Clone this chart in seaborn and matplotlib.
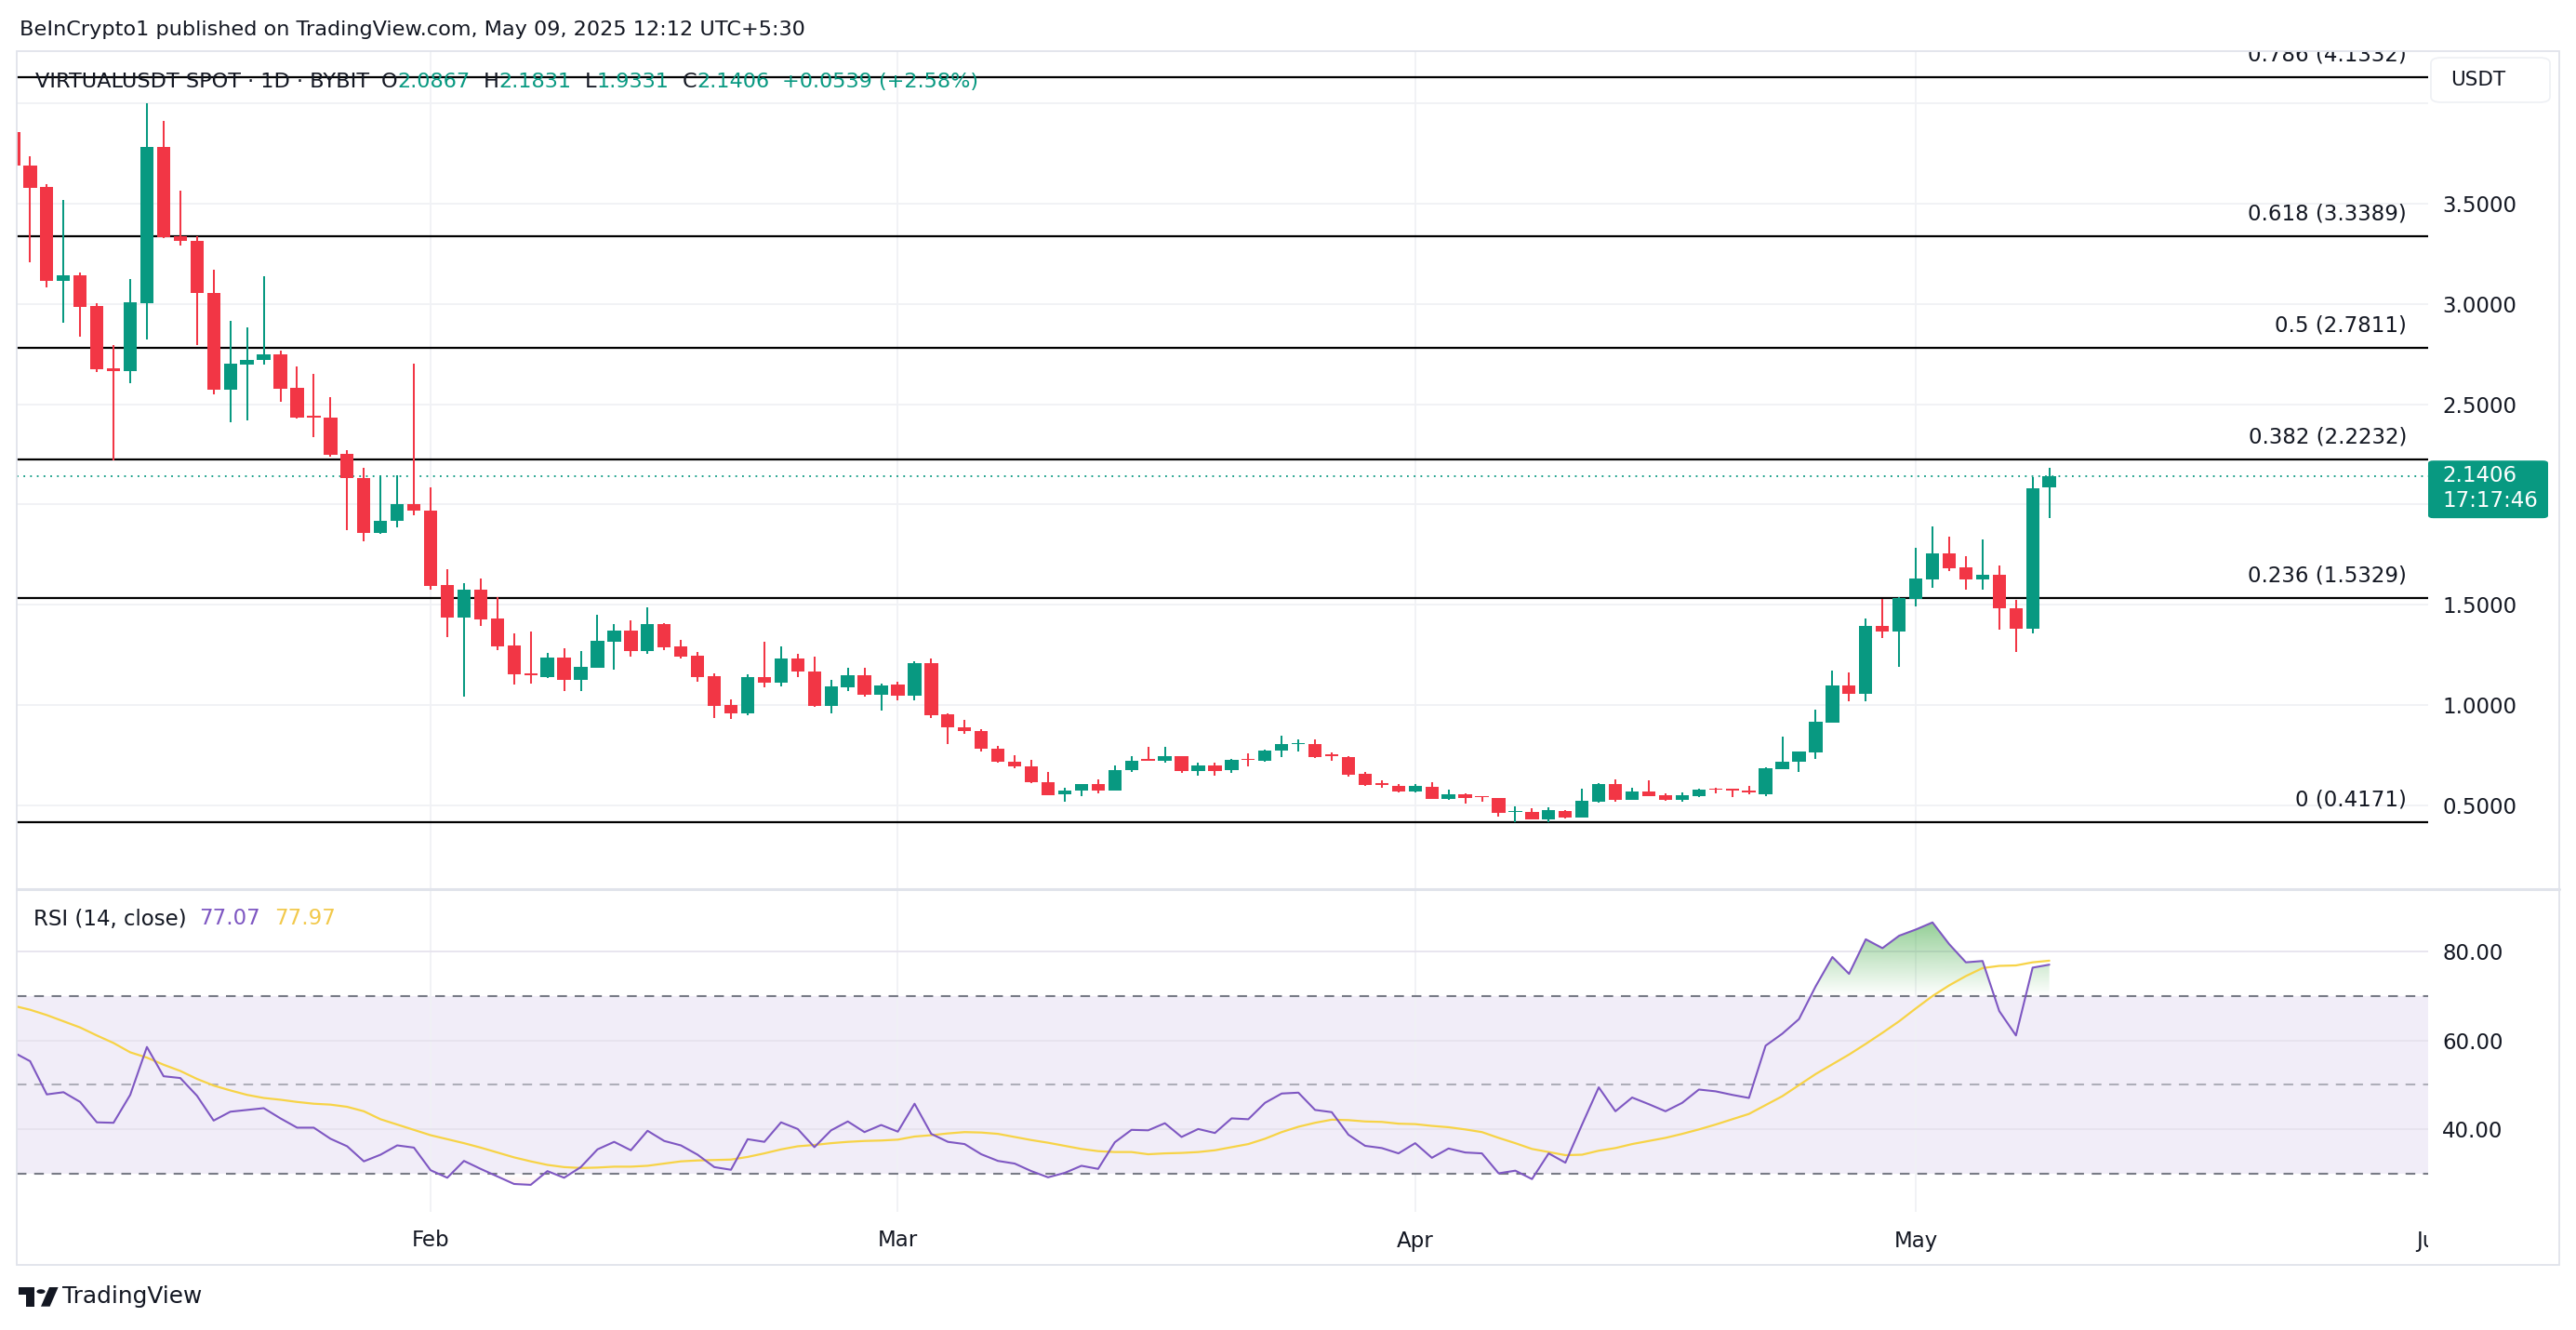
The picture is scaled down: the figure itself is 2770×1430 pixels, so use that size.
import matplotlib
matplotlib.use("Agg")
import matplotlib.pyplot as plt
import matplotlib.dates as mdates
from matplotlib.patches import Rectangle, FancyBboxPatch, PathPatch, Polygon, Circle
from matplotlib.lines import Line2D
from matplotlib.path import Path
from matplotlib.transforms import Bbox, TransformedBbox, ScaledTranslation, blended_transform_factory
import numpy as np
import pandas as pd
import seaborn as sns

# ---- values (daily candles, Jan 7 -> May 9 2025) ----
start_day = "2025-01-07"
end_day = "2025-05-09"

opens = [3.858, 3.692, 3.585, 3.115, 3.145, 2.989, 2.681, 2.667, 3.005, 3.782,
         3.340, 3.316, 3.055, 2.573, 2.697, 2.722, 2.748, 2.581, 2.444, 2.436,
         2.252, 2.131, 1.860, 1.920, 2.004, 1.972, 1.597, 1.435, 1.577, 1.430,
         1.295, 1.158, 1.141, 1.235, 1.127, 1.187, 1.316, 1.370, 1.269, 1.404,
         1.292, 1.246, 1.145, 0.998, 0.960, 1.138, 1.110, 1.230, 1.165, 0.995,
         1.088, 1.148, 1.053, 1.100, 1.048, 1.207, 0.955, 0.888, 0.870, 0.783,
         0.718, 0.695, 0.615, 0.553, 0.571, 0.605, 0.571, 0.675, 0.726, 0.721,
         0.745, 0.669, 0.698, 0.675, 0.731, 0.721, 0.772, 0.803, 0.806, 0.752,
         0.741, 0.656, 0.610, 0.598, 0.567, 0.592, 0.531, 0.554, 0.545, 0.534,
         0.465, 0.465, 0.431, 0.472, 0.438, 0.516, 0.607, 0.527, 0.568, 0.550,
         0.527, 0.545, 0.584, 0.578, 0.573, 0.554, 0.681, 0.715, 0.765, 0.913,
         1.099, 1.057, 1.396, 1.366, 1.529, 1.628, 1.756, 1.687, 1.628, 1.648,
         1.482, 1.382, 2.0867]
highs = [3.870, 3.738, 3.597, 3.521, 3.159, 3.005, 2.798, 3.123, 4.003, 3.913,
         3.567, 3.340, 3.170, 2.918, 2.882, 3.140, 2.768, 2.687, 2.651, 2.537,
         2.270, 2.181, 2.145, 2.145, 2.704, 2.088, 1.679, 1.606, 1.633, 1.540,
         1.355, 1.367, 1.261, 1.284, 1.269, 1.450, 1.404, 1.424, 1.486, 1.408,
         1.323, 1.266, 1.156, 1.026, 1.153, 1.315, 1.292, 1.254, 1.241, 1.125,
         1.184, 1.184, 1.107, 1.114, 1.220, 1.233, 0.958, 0.927, 0.880, 0.795,
         0.749, 0.726, 0.667, 0.587, 0.605, 0.629, 0.698, 0.744, 0.792, 0.792,
         0.745, 0.713, 0.713, 0.731, 0.757, 0.777, 0.845, 0.826, 0.826, 0.765,
         0.745, 0.667, 0.625, 0.605, 0.604, 0.615, 0.578, 0.558, 0.545, 0.534,
         0.492, 0.483, 0.488, 0.475, 0.584, 0.608, 0.630, 0.588, 0.624, 0.557,
         0.562, 0.581, 0.588, 0.580, 0.595, 0.689, 0.843, 0.766, 0.976, 1.172,
         1.161, 1.431, 1.527, 1.540, 1.784, 1.891, 1.838, 1.741, 1.826, 1.694,
         1.524, 2.138, 2.1831]
lows = [3.680, 3.210, 3.085, 2.908, 2.838, 2.661, 2.221, 2.607, 2.824, 3.330,
        3.290, 2.798, 2.551, 2.410, 2.422, 2.697, 2.511, 2.430, 2.336, 2.241,
        1.874, 1.818, 1.855, 1.884, 1.948, 1.575, 1.339, 1.043, 1.395, 1.273,
        1.101, 1.107, 1.134, 1.068, 1.071, 1.187, 1.176, 1.241, 1.257, 1.272,
        1.230, 1.117, 0.936, 0.929, 0.947, 1.087, 1.091, 1.138, 0.991, 0.957,
        1.071, 1.040, 0.971, 1.022, 1.023, 0.935, 0.803, 0.854, 0.768, 0.710,
        0.683, 0.610, 0.548, 0.517, 0.544, 0.559, 0.571, 0.664, 0.721, 0.713,
        0.661, 0.646, 0.646, 0.661, 0.692, 0.715, 0.738, 0.769, 0.734, 0.723,
        0.641, 0.595, 0.587, 0.566, 0.565, 0.530, 0.527, 0.508, 0.519, 0.445,
        0.414, 0.431, 0.414, 0.434, 0.438, 0.514, 0.519, 0.527, 0.545, 0.524,
        0.519, 0.539, 0.561, 0.542, 0.555, 0.546, 0.681, 0.668, 0.732, 0.913,
        1.018, 1.018, 1.335, 1.192, 1.490, 1.586, 1.666, 1.574, 1.574, 1.377,
        1.266, 1.359, 1.9331]
closes = [3.692, 3.581, 3.115, 3.145, 2.985, 2.677, 2.667, 3.009, 3.782, 3.336,
          3.316, 3.055, 2.573, 2.701, 2.723, 2.748, 2.577, 2.434, 2.434, 2.250,
          2.131, 1.860, 1.920, 2.004, 1.970, 1.595, 1.435, 1.577, 1.428, 1.293,
          1.155, 1.150, 1.235, 1.127, 1.189, 1.319, 1.370, 1.269, 1.404, 1.289,
          1.243, 1.141, 0.995, 0.960, 1.138, 1.110, 1.230, 1.165, 0.995, 1.091,
          1.148, 1.053, 1.096, 1.048, 1.207, 0.950, 0.888, 0.870, 0.780, 0.715,
          0.692, 0.615, 0.551, 0.575, 0.605, 0.571, 0.675, 0.723, 0.721, 0.745,
          0.669, 0.698, 0.672, 0.726, 0.724, 0.772, 0.803, 0.811, 0.741, 0.744,
          0.653, 0.602, 0.602, 0.567, 0.594, 0.531, 0.554, 0.537, 0.539, 0.460,
          0.469, 0.431, 0.475, 0.438, 0.522, 0.607, 0.527, 0.568, 0.547, 0.527,
          0.550, 0.578, 0.576, 0.573, 0.565, 0.684, 0.716, 0.766, 0.916, 1.099,
          1.057, 1.396, 1.366, 1.535, 1.629, 1.756, 1.683, 1.628, 1.648, 1.481,
          1.382, 2.081, 2.1406]

rsi_vals = [57.3, 55.3, 47.8, 48.3, 46.1, 41.5, 41.4, 47.7, 58.5, 51.9,
            51.5, 47.5, 41.9, 43.9, 44.3, 44.7, 42.4, 40.3, 40.3, 37.8,
            36.1, 32.7, 34.2, 36.3, 35.8, 30.7, 29.0, 32.8, 31.0, 29.3,
            27.6, 27.4, 30.5, 29.0, 31.4, 35.4, 37.1, 35.2, 39.6, 37.3,
            36.3, 34.2, 31.4, 30.8, 37.7, 37.1, 41.5, 40.0, 35.9, 39.7,
            41.7, 39.3, 40.9, 39.4, 45.7, 38.9, 37.1, 36.6, 34.3, 32.8,
            32.2, 30.5, 29.1, 30.1, 31.7, 31.0, 37.0, 39.8, 39.7, 41.3,
            38.2, 40.0, 39.1, 42.4, 42.2, 45.9, 48.0, 48.2, 44.3, 43.8,
            38.7, 36.2, 35.7, 34.5, 36.8, 33.5, 35.6, 34.7, 34.5, 30.0,
            30.6, 28.7, 34.5, 32.4, 41.0, 49.4, 44.0, 47.1, 45.6, 44.0,
            45.9, 48.9, 48.5, 47.7, 47.0, 58.8, 61.5, 64.8, 72.2, 78.8,
            75.0, 82.8, 80.8, 83.6, 85.0, 86.6, 81.7, 77.6, 77.9, 66.6,
            61.1, 76.4, 77.07]
rsi_ma_vals = [67.8, 66.9, 65.7, 64.3, 62.9, 61.1, 59.4, 57.3, 56.1, 54.5,
               53.1, 51.3, 49.8, 48.7, 47.7, 47.0, 46.6, 46.1, 45.7, 45.5,
               45.0, 44.0, 42.2, 41.0, 39.8, 38.6, 37.7, 36.8, 35.8, 34.7,
               33.6, 32.7, 31.9, 31.4, 31.2, 31.3, 31.5, 31.5, 31.7, 32.2,
               32.7, 32.9, 33.0, 33.1, 33.7, 34.5, 35.4, 36.1, 36.4, 36.8,
               37.1, 37.3, 37.4, 37.6, 38.3, 38.6, 39.0, 39.3, 39.2, 38.9,
               38.2, 37.5, 36.9, 36.2, 35.5, 35.0, 34.8, 34.8, 34.3, 34.5,
               34.6, 34.8, 35.2, 35.9, 36.6, 37.8, 39.3, 40.5, 41.4, 42.1,
               42.0, 41.7, 41.6, 41.2, 41.1, 40.7, 40.4, 39.9, 39.3, 38.0,
               36.8, 35.5, 34.8, 34.1, 34.2, 35.1, 35.7, 36.6, 37.3, 38.0,
               38.9, 39.9, 41.0, 42.2, 43.4, 45.4, 47.4, 49.9, 52.4, 54.6,
               56.8, 59.2, 61.7, 64.3, 67.2, 70.0, 72.4, 74.5, 76.3, 76.8,
               76.9, 77.6, 77.97]

fib_ratios = ["0", "0.236", "0.382", "0.5", "0.618", "0.786"]
fib_prices = [0.4171, 1.5329, 2.2232, 2.7811, 3.3389, 4.1332]
price_ticks = [0.5, 1.0, 1.5, 2.5, 3.0, 3.5]
price_grid_only = [2.0, 4.0]
rsi_ticks = [40, 60, 80]
rsi_levels = [70, 50, 30]
month_starts = ["2025-02-01", "2025-03-01", "2025-04-01", "2025-05-01", "2025-06-01"]
month_labels = ["Feb", "Mar", "Apr", "May", "Jun"]
last_price = 2.1406
countdown = "17:17:46"
header = "BeInCrypto1 published on TradingView.com, May 09, 2025 12:12 UTC+5:30"
symbol = "VIRTUALUSDT SPOT · 1D · BYBIT"
ohlc_text = [("O", "2.0867"), ("H", "2.1831"), ("L", "1.9331"), ("C", "2.1406")]
change_text = "+0.0539 (+2.58%)"

GREEN = "#089981"
RED = "#F23645"
INK = "#131722"
PURPLE = "#7E57C2"
YELLOW = "#F7D346"
GRID = "#F0F1F5"
BORDER = "#E0E3EB"

sns.set_theme(style="white")
plt.rcParams["font.family"] = ["DejaVu Sans"]
FS = 16.5
FS_TOP = 16.1

W, H = 2770, 1430
fig = plt.figure(figsize=(W / 100, H / 100), dpi=100)
fig.patch.set_facecolor("white")


def fx(x):
    return x / W


def fy(y):
    return 1 - y / H


ax = fig.add_axes([fx(18), fy(955), (2611 - 18) / W, (955 - 55) / H])
ax_r = fig.add_axes([fx(18), fy(1303), (2611 - 18) / W, (1303 - 957) / H], sharex=ax)

dates = pd.date_range(start_day, end_day, freq="D")
x = mdates.date2num(dates)
o = np.array(opens)
h = np.array(highs)
l = np.array(lows)
c = np.array(closes)
colors = np.where(c >= o, GREEN, RED)

# ---- price pane ----
ax.vlines(x, l, h, colors=colors, lw=1.45, zorder=4)
body = np.maximum(np.abs(c - o), 0.008)
ax.bar(x, body, bottom=np.minimum(o, c), width=0.8, color=colors, lw=0, zorder=5)

for r, p in zip(fib_ratios, fib_prices):
    ax.axhline(p, color="black", lw=1.6, zorder=3)
    tr = blended_transform_factory(ax.transAxes, ax.transData) + ScaledTranslation(0, 0.24, fig.dpi_scale_trans)
    ax.text((2588 - 18) / (2611 - 18), p, f"{r} ({p:.4f})", transform=tr, ha="right", va="center",
            fontsize=FS, color=INK, clip_on=True, zorder=6)

ax.axhline(last_price, color=GREEN, lw=1.3, ls=(0, (1, 3)), zorder=3)

ax.set_ylim(0.0858, 4.262)
ax.yaxis.tick_right()
ax.set_yticks(price_ticks)
ax.set_yticks(price_grid_only, minor=True)
ax.set_yticklabels([f"{v:.4f}" for v in price_ticks])
ax.tick_params(axis="y", which="both", length=0, pad=10.8, labelsize=FS, labelcolor=INK)
ax.grid(axis="y", which="both", color=GRID, lw=1.3)

# ---- RSI pane ----
ax_r.axhspan(30, 70, color=PURPLE, alpha=0.1, lw=0, zorder=0)
for lvl in rsi_levels:
    ax_r.axhline(lvl, color="#787B86", lw=1.5, ls=(0, (5, 4)), alpha=1.0 if lvl != 50 else 0.55, zorder=2)


def gradient_fill(axis, xs, ys, base, lo, hi, rgb, amax, above):
    mask = ys > base if above else ys < base
    coll = axis.fill_between(xs, ys, base, where=mask, interpolate=True, facecolor="none", edgecolor="none")
    paths = [pp for pp in coll.get_paths() if len(pp.vertices)]
    if not paths:
        return
    comp = Path.make_compound_path(*paths)
    patch = PathPatch(comp, transform=axis.transData, fc="none", ec="none")
    axis.add_patch(patch)
    n = 256
    alpha = np.linspace(0, amax, n) if above else np.linspace(amax, 0, n)
    img = np.zeros((n, 1, 4))
    img[..., :3] = np.array(rgb) / 255.0
    img[..., 3] = alpha[:, None]
    im = axis.imshow(img, extent=[xs.min(), xs.max(), lo, hi], origin="lower", aspect="auto",
                     interpolation="bilinear", zorder=1.5)
    im.set_clip_path(patch)


rsi = np.array(rsi_vals)
gradient_fill(ax_r, x, rsi, 70, 70, 90, (76, 175, 80), 0.72, True)
gradient_fill(ax_r, x, rsi, 30, 10, 30, (242, 54, 69), 0.6, False)

sns.lineplot(x=x, y=rsi_ma_vals, ax=ax_r, color=YELLOW, lw=1.6, zorder=3)
sns.lineplot(x=x, y=rsi_vals, ax=ax_r, color=PURPLE, lw=1.5, zorder=4)
ax_r.set_xlabel("")
ax_r.set_ylabel("")
ax_r.set_ylim(21.3, 93.9)
ax_r.yaxis.tick_right()
ax_r.set_yticks(rsi_ticks)
ax_r.set_yticklabels([f"{v:.2f}" for v in rsi_ticks])
ax_r.tick_params(axis="y", length=0, pad=10.8, labelsize=FS, labelcolor=INK)
ax_r.grid(axis="y", color="#E6E3EE", lw=1.3)

month_x = mdates.date2num(pd.to_datetime(month_starts))
for a in (ax, ax_r):
    a.set_xticks(month_x)
    a.tick_params(axis="x", length=0, labelbottom=False)
    a.grid(axis="x", color=GRID, lw=1.3)
    for s in a.spines.values():
        s.set_visible(False)
    a.set_facecolor("none")
ax.set_xlim(x[0] + 0.2, month_x[-1] - 0.3)

# month labels, clipped at the price scale like the original
clipbox = TransformedBbox(Bbox([[0, 0], [2611 / W, 1]]), fig.transFigure)
mtr = blended_transform_factory(ax_r.transData, fig.transFigure)
for mx, lab in zip(month_x, month_labels):
    t = fig.text(mx, fy(1334), lab, transform=mtr, ha="center", va="center", fontsize=FS, color=INK)
    t.set_clip_on(True)
    t.set_clip_box(clipbox)

# ---- frame ----
fig.add_artist(Rectangle((fx(18), fy(1360)), (2752 - 18) / W, (1360 - 55) / H, fill=False, ec=BORDER, lw=1.3))
fig.add_artist(Line2D([fx(18), fx(2752)], [fy(956), fy(956)], color=BORDER, lw=2.2))

# ---- texts ----
renderer = fig.canvas.get_renderer()


def run_text(x0, y0, parts, size):
    cx = x0
    for s, col, gap in parts:
        t = fig.text(fx(cx), fy(y0), s, color=col, fontsize=size, ha="left", va="center")
        cx += t.get_window_extent(renderer=renderer).width + gap


fig.text(fx(21), fy(32), header, fontsize=FS_TOP, color=INK, ha="left", va="center")

parts = [(symbol, INK, 13)]
for k, v in ohlc_text:
    parts.append((k, INK, 0))
    parts.append((v, GREEN, 14))
parts.append((change_text, GREEN, 0))
run_text(38, 88, parts, FS_TOP)

run_text(36, 988, [("RSI (14, close)", INK, 14), (f"{rsi_vals[-1]:.2f}", PURPLE, 15),
                   (f"{rsi_ma_vals[-1]:.2f}", "#F2C94C", 0)], FS)

# USDT unit box
fig.add_artist(FancyBboxPatch((fx(2614), fy(110)), (2742 - 2614) / W, (110 - 62) / H,
                              boxstyle="round,pad=0,rounding_size=0.004", fc="white", ec="#EEF0F4", lw=1.2))
fig.text(fx(2665), fy(86), "USDT", fontsize=15.5, color=INK, ha="center", va="center")

# last price box
py = ax.transData.transform((x[-1], last_price))[1]
fig.add_artist(FancyBboxPatch((fx(2611), (py - 45) / H), (2740 - 2611) / W, 62 / H,
                              boxstyle="round,pad=0,rounding_size=0.002", fc=GREEN, ec="none"))
fig.text(fx(2626), (py + 1) / H, f"{last_price:.4f}", fontsize=FS, color="white", ha="left", va="center")
fig.text(fx(2626), (py - 26) / H, countdown, fontsize=FS, color="white", ha="left", va="center")


# TradingView logo + wordmark
def logo_pt(u, v):
    return fx(20 + u * 1.2), fy(1384 + (v - 4) * 1.15)


fig.add_artist(Polygon([logo_pt(*p) for p in [(0, 4), (14, 4), (14, 22), (7, 22), (7, 11), (0, 11)]],
                       closed=True, fc=INK, ec="none"))
fig.add_artist(Polygon([logo_pt(*p) for p in [(27.5, 4), (35.5, 4), (28, 22), (20, 22)]],
                       closed=True, fc=INK, ec="none"))
cxy = logo_pt(20, 8)
fig.add_artist(Circle(cxy, 4.6 / W, fc=INK, ec="none", transform=fig.transFigure))
fig.text(fx(67), fy(1394), "TradingView", fontsize=17.8, color=INK, ha="left", va="center")

fig.savefig("out.png", dpi=100, facecolor="white")
